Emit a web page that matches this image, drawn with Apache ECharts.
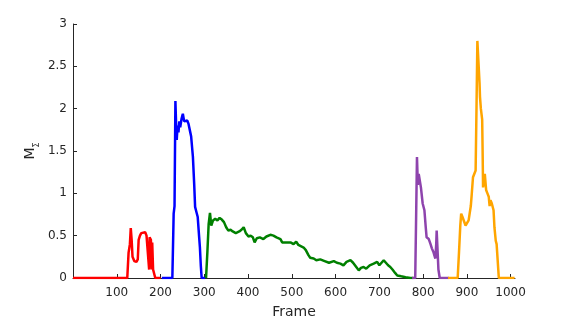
<!DOCTYPE html>
<html>
<head>
<meta charset="utf-8">
<script src="https://cdn.jsdelivr.net/npm/echarts@6/dist/echarts.min.js"></script>
<style>
  html, body { margin: 0; padding: 0; background: #fff; }
  #main { width: 569px; height: 320px; }
</style>
</head>
<body>
<div id="main"></div>
<script>
// [frame, M_sigma] per segment
var redData = [
  [0, 0], [124, 0], [127, 0.3], [130, 0.4], [132, 0.59], [134, 0.45], [136, 0.25],
  [140, 0.2], [145, 0.19], [148, 0.22], [150, 0.45], [153, 0.5], [156, 0.53],
  [160, 0.52], [165, 0.54], [168, 0.5], [172, 0.5], [174, 0.1], [175, 0.48],
  [178, 0.45], [180, 0.1], [181, 0.42], [183, 0.1], [186, 0.08], [188, 0], [200, 0]
];
var blueData = [
  [203, 0], [227, 0], [229, 0.5], [230, 0.76], [232, 0.85], [234, 2.09], [236, 1.75],
  [237, 1.63], [239, 1.8], [241, 1.72], [243, 1.85], [245, 1.78], [248, 1.88],
  [251, 1.94], [254, 1.85], [256, 1.83], [258, 1.87], [261, 1.86], [264, 1.82],
  [266, 1.84], [268, 1.72], [270, 1.67], [272, 1.55], [274, 1.43], [277, 1.1],
  [279, 0.84], [282, 0.78], [285, 0.72], [288, 0.5], [290, 0.36], [292, 0.15],
  [294, 0], [302, 0]
];
var greenData = [
  [304, 0], [307, 0.3], [310, 0.64], [313, 0.77], [316, 0.62], [320, 0.68], [325, 0.7],
  [330, 0.68], [335, 0.71], [340, 0.69], [345, 0.66], [350, 0.6], [355, 0.56],
  [360, 0.57], [365, 0.55], [372, 0.53], [380, 0.55], [385, 0.57], [390, 0.6],
  [395, 0.53], [401, 0.49], [406, 0.5], [411, 0.48], [415, 0.42], [420, 0.47],
  [427, 0.48], [435, 0.46], [442, 0.49], [451, 0.51], [458, 0.5], [465, 0.48],
  [474, 0.46], [478, 0.42], [481, 0.4], [488, 0.42], [497, 0.42], [504, 0.4],
  [510, 0.43], [515, 0.39], [519, 0.39], [527, 0.36], [532, 0.33], [538, 0.27],
  [542, 0.24], [550, 0.23], [556, 0.21], [565, 0.22], [575, 0.2], [585, 0.18],
  [596, 0.2], [603, 0.18], [611, 0.17], [618, 0.15], [625, 0.19], [634, 0.21],
  [640, 0.18], [646, 0.14], [653, 0.09], [658, 0.12], [664, 0.13], [670, 0.11],
  [678, 0.15], [687, 0.17], [695, 0.19], [700, 0.15], [705, 0.18], [710, 0.21],
  [715, 0.18], [720, 0.15], [725, 0.13], [730, 0.1], [736, 0.06], [741, 0.03],
  [750, 0.02], [760, 0.01], [771, 0], [778, 0]
];
var purpleData = [
  [775, 0], [782, 0], [784, 0.7], [786, 1.43], [788, 1.1], [790, 1.23], [793, 1.25],
  [795, 1.07], [799, 0.88], [803, 0.8], [806, 0.6], [808, 0.48], [813, 0.46],
  [817, 0.4], [820, 0.35], [824, 0.3], [828, 0.23], [830, 0.4], [831, 0.56],
  [834, 0.56], [835, 0.1], [838, 0], [859, 0]
];
var orangeData = [
  [857, 0], [879, 0], [882, 0.3], [885, 0.62], [887, 0.76], [890, 0.72], [892, 0.7],
  [897, 0.62], [900, 0.64], [904, 0.68], [907, 0.7], [909, 0.85], [911, 0.98],
  [914, 1.19], [917, 1.2], [920, 1.27], [922, 2.0], [924, 2.8], [927, 2.78],
  [929, 2.3], [930, 2.14], [932, 2.0], [935, 1.87], [936, 1.5], [937, 1.07],
  [939, 1.15], [941, 1.23], [944, 1.04], [947, 1.0], [950, 0.96], [952, 0.85],
  [954, 0.92], [957, 0.88], [960, 0.9], [961, 0.8], [963, 0.6], [966, 0.44],
  [968, 0.4], [970, 0.24], [973, 0], [1009, 0]
];

var segments = [
  { data: redData, color: '#ff0000' },
  { data: blueData, color: '#0000ff' },
  { data: greenData, color: '#008000' },
  { data: purpleData, color: '#8e44ad' },
  { data: orangeData, color: '#ffa500' }
];

var axisColor = '#262626';
var font = 'DejaVu Sans';

var chart = echarts.init(document.getElementById('main'));
chart.setOption({
  animation: false,
  grid: { left: 73, right: 54, top: 24, bottom: 42, outerBoundsMode: 'none', containLabel: false },
  xAxis: {
    type: 'value',
    min: 0,
    max: 1010,
    interval: 100,
    name: 'Frame',
    nameLocation: 'middle',
    nameGap: 27,
    nameMoveOverlap: false,
    nameTextStyle: { color: axisColor, fontSize: 14, fontFamily: font },
    splitLine: { show: false },
    axisLine: { lineStyle: { color: axisColor, width: 1 } },
    axisTick: { inside: true, length: 4, lineStyle: { color: axisColor } },
    axisLabel: {
      color: axisColor, fontSize: 12, fontFamily: font, margin: 9,
      showMaxLabel: false,
      formatter: function (v) { return v === 0 ? '' : String(v); }
    }
  },
  yAxis: {
    type: 'value',
    min: 0,
    max: 3,
    interval: 0.5,
    name: '{m|M}{s|Σ}',
    nameLocation: 'middle',
    nameRotate: 90,
    nameGap: 32,
    nameMoveOverlap: false,
    nameTextStyle: {
      color: axisColor, fontFamily: font,
      rich: {
        m: { fontSize: 14, fontFamily: font, color: axisColor, verticalAlign: 'top', lineHeight: 18 },
        s: { fontSize: 8, fontFamily: font, color: axisColor, verticalAlign: 'bottom', lineHeight: 18 }
      }
    },
    splitLine: { show: false },
    axisLine: { show: true, lineStyle: { color: axisColor, width: 1 } },
    axisTick: { show: true, inside: true, length: 4, lineStyle: { color: axisColor } },
    axisLabel: { color: axisColor, fontSize: 12, fontFamily: font, margin: 6 }
  },
  series: segments.map(function (s) {
    return {
      type: 'line',
      data: s.data,
      showSymbol: false,
      symbol: 'none',
      lineStyle: { color: s.color, width: 2.5 },
      itemStyle: { color: s.color },
      z: 3
    };
  })
});
</script>
</body>
</html>
